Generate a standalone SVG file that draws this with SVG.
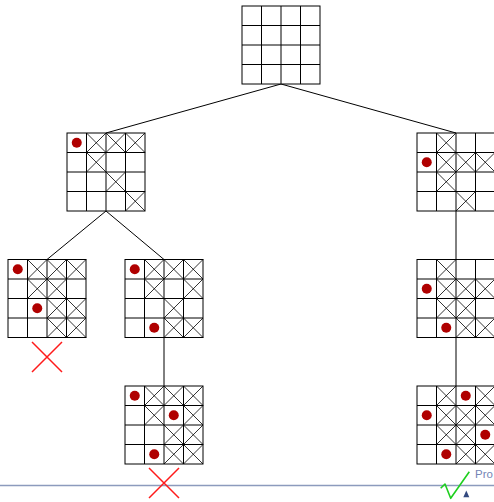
<svg xmlns="http://www.w3.org/2000/svg" xmlns:xlink="http://www.w3.org/1999/xlink" width="494" height="502" viewBox="0 0 494 502">
<style>
.g{fill:#fff;stroke:#000;stroke-width:1}
.x{fill:none;stroke:#000;stroke-width:0.8}
.q{fill:#b00000}
.c{stroke:#000;stroke-width:1;fill:none}
.d{stroke:#ff1a1a;stroke-width:1.5;fill:none}
</style>
<defs>
<g id="grid">
<rect class="g" x="0" y="0" width="78" height="78"/>
<path class="g" d="M19.5 0V78M39 0V78M58.5 0V78M0 19.5H78M0 39H78M0 58.5H78"/>
</g>
<path id="x" class="x" d="M0 0L19.5 19.5M19.5 0L0 19.5"/>
</defs>
<rect width="494" height="502" fill="#fff"/>
<line x1="0" y1="485.5" x2="494" y2="485.5" stroke="#8c9bbd" stroke-width="1.4"/>
<g id="connectors">
<path class="c" d="M281 84L106 133M281 84L456 133M106 211L47 259.5M106 211L164 259.5M164 337.5L164 386M456 211L456 259.5M456 337.5L456 386"/>
</g>
<g id="root">
<use xlink:href="#grid" x="242" y="6"/>
</g>
<g id="n1" transform="translate(67,133)">
<use xlink:href="#grid"/>
<use xlink:href="#x" x="19.5" y="0"/><use xlink:href="#x" x="39" y="0"/><use xlink:href="#x" x="58.5" y="0"/>
<use xlink:href="#x" x="19.5" y="19.5"/><use xlink:href="#x" x="39" y="39"/><use xlink:href="#x" x="58.5" y="58.5"/>
<circle class="q" cx="9.75" cy="9.75" r="5"/>
</g>
<g id="n2" transform="translate(417,133)">
<use xlink:href="#grid"/>
<use xlink:href="#x" x="19.5" y="0"/>
<use xlink:href="#x" x="19.5" y="19.5"/><use xlink:href="#x" x="39" y="19.5"/><use xlink:href="#x" x="58.5" y="19.5"/>
<use xlink:href="#x" x="19.5" y="39"/><use xlink:href="#x" x="39" y="58.5"/>
<circle class="q" cx="9.75" cy="29.25" r="5"/>
</g>
<g id="n3" transform="translate(8,259.5)">
<use xlink:href="#grid"/>
<use xlink:href="#x" x="19.5" y="0"/><use xlink:href="#x" x="39" y="0"/><use xlink:href="#x" x="58.5" y="0"/>
<use xlink:href="#x" x="19.5" y="19.5"/><use xlink:href="#x" x="39" y="19.5"/>
<use xlink:href="#x" x="39" y="39"/><use xlink:href="#x" x="58.5" y="39"/>
<use xlink:href="#x" x="39" y="58.5"/><use xlink:href="#x" x="58.5" y="58.5"/>
<circle class="q" cx="9.75" cy="9.75" r="5"/>
<circle class="q" cx="29.25" cy="48.75" r="5"/>
</g>
<g id="n4" transform="translate(125,259.5)">
<use xlink:href="#grid"/>
<use xlink:href="#x" x="19.5" y="0"/><use xlink:href="#x" x="39" y="0"/><use xlink:href="#x" x="58.5" y="0"/>
<use xlink:href="#x" x="19.5" y="19.5"/><use xlink:href="#x" x="58.5" y="19.5"/>
<use xlink:href="#x" x="39" y="39"/>
<use xlink:href="#x" x="39" y="58.5"/><use xlink:href="#x" x="58.5" y="58.5"/>
<circle class="q" cx="9.75" cy="9.75" r="5"/>
<circle class="q" cx="29.25" cy="68.25" r="5"/>
</g>
<g id="n5" transform="translate(417,259.5)">
<use xlink:href="#grid"/>
<use xlink:href="#x" x="19.5" y="0"/>
<use xlink:href="#x" x="19.5" y="19.5"/><use xlink:href="#x" x="39" y="19.5"/><use xlink:href="#x" x="58.5" y="19.5"/>
<use xlink:href="#x" x="19.5" y="39"/><use xlink:href="#x" x="39" y="39"/>
<use xlink:href="#x" x="39" y="58.5"/><use xlink:href="#x" x="58.5" y="58.5"/>
<circle class="q" cx="9.75" cy="29.25" r="5"/>
<circle class="q" cx="29.25" cy="68.25" r="5"/>
</g>
<g id="n6" transform="translate(125,386)">
<use xlink:href="#grid"/>
<use xlink:href="#x" x="19.5" y="0"/><use xlink:href="#x" x="39" y="0"/><use xlink:href="#x" x="58.5" y="0"/>
<use xlink:href="#x" x="19.5" y="19.5"/><use xlink:href="#x" x="58.5" y="19.5"/>
<use xlink:href="#x" x="39" y="39"/><use xlink:href="#x" x="58.5" y="39"/>
<use xlink:href="#x" x="39" y="58.5"/><use xlink:href="#x" x="58.5" y="58.5"/>
<circle class="q" cx="9.75" cy="9.75" r="5"/>
<circle class="q" cx="48.75" cy="29.25" r="5"/>
<circle class="q" cx="29.25" cy="68.25" r="5"/>
</g>
<g id="n7" transform="translate(417,386)">
<use xlink:href="#grid"/>
<use xlink:href="#x" x="19.5" y="0"/><use xlink:href="#x" x="58.5" y="0"/>
<use xlink:href="#x" x="19.5" y="19.5"/><use xlink:href="#x" x="39" y="19.5"/><use xlink:href="#x" x="58.5" y="19.5"/>
<use xlink:href="#x" x="19.5" y="39"/><use xlink:href="#x" x="39" y="39"/>
<use xlink:href="#x" x="39" y="58.5"/><use xlink:href="#x" x="58.5" y="58.5"/>
<circle class="q" cx="48.75" cy="9.75" r="5"/>
<circle class="q" cx="9.75" cy="29.25" r="5"/>
<circle class="q" cx="68.25" cy="48.75" r="5"/>
<circle class="q" cx="29.25" cy="68.25" r="5"/>
</g>
<g id="deadend1"><path class="d" d="M32 342L62 372M62 342L32 372"/></g>
<g id="deadend2"><path class="d" d="M149 468L179 498M179 468L149 498"/></g>
<g id="solution"><path d="M440.7 488.3L445 484L450.7 498.3L469.3 471.7" fill="none" stroke="#1ecf1e" stroke-width="1.6" stroke-linejoin="round"/></g>
<polygon points="463.3,497.3 469.3,497.3 466.3,490.5" fill="#33497f"/>
<text x="475" y="477.5" font-family="Liberation Sans, sans-serif" font-size="11.5" fill="#7585b5">Pro</text>
</svg>
